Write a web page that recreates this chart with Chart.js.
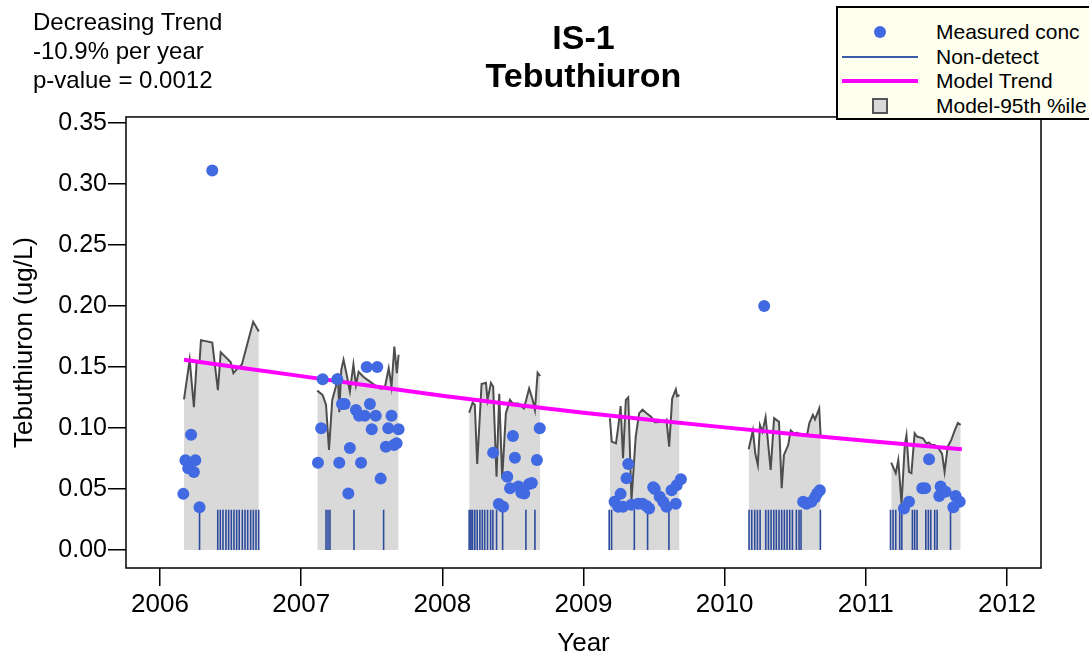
<!DOCTYPE html>
<html><head><meta charset="utf-8">
<script src="https://cdn.jsdelivr.net/npm/chart.js@4.4.1/dist/chart.umd.min.js"></script>
<style>
html,body{margin:0;padding:0;background:#fff;overflow:hidden;}
#wrap{position:relative;width:1089px;height:656px;font-family:"Liberation Sans",Arial,sans-serif;color:#000;overflow:hidden;}
canvas{position:absolute;left:0;top:0;}
#note{position:absolute;left:33px;top:7px;font-size:24px;line-height:29px;white-space:nowrap;}
#legend{position:absolute;left:836px;top:6px;width:270px;height:110px;background:#FFFFF0;border:2px solid #000;}
.lrow{position:absolute;left:936px;font-size:21px;line-height:24px;height:24px;white-space:nowrap;}
.sym{position:absolute;}
</style>
</head><body>
<div id="wrap">
<canvas id="c" width="1089" height="656"></canvas>
<div id="note">Decreasing Trend<br>-10.9% per year<br>p-value = 0.0012</div>
<div id="legend"></div>
<div class="sym" style="left:874px;top:26px;width:12px;height:12px;border-radius:50%;background:#4169E1;"></div>
<div class="sym" style="left:842px;top:56px;width:76px;height:2px;background:#3B5BAA;"></div>
<div class="sym" style="left:842px;top:79px;width:76px;height:4px;background:#FF00FF;"></div>
<div class="sym" style="left:872px;top:98px;width:12px;height:12px;background:#D9D9D9;border:2px solid #555;"></div>
<div class="lrow" style="top:20px;">Measured conc</div>
<div class="lrow" style="top:45px;">Non-detect</div>
<div class="lrow" style="top:69px;">Model Trend</div>
<div class="lrow" style="top:94px;">Model-95th %ile</div>
</div>
<script>
// ---- data (decimal years, ug/L) ----
const titleLines = ['IS-1', 'Tebuthiuron'];
const xTicks = [2006, 2007, 2008, 2009, 2010, 2011, 2012];
const yTicks = [0.00, 0.05, 0.10, 0.15, 0.20, 0.25, 0.30, 0.35];

const measuredT = [
  2006.165, 2006.18, 2006.20, 2006.22, 2006.24, 2006.25, 2006.28, 2006.37,
  2007.119, 2007.142, 2007.152, 2007.256, 2007.27, 2007.289, 2007.308, 2007.334, 2007.345, 2007.388,
  2007.41, 2007.424, 2007.45, 2007.464, 2007.487, 2007.50, 2007.528, 2007.539, 2007.563, 2007.60,
  2007.617, 2007.64, 2007.657, 2007.676, 2007.69,
  2008.36, 2008.40, 2008.43, 2008.46, 2008.48, 2008.50, 2008.514, 2008.54, 2008.56, 2008.58,
  2008.615, 2008.634, 2008.67, 2008.69,
  2009.22, 2009.246, 2009.263, 2009.28, 2009.305, 2009.317, 2009.34, 2009.387, 2009.418, 2009.447,
  2009.465, 2009.494, 2009.505, 2009.54, 2009.565, 2009.588, 2009.624, 2009.654, 2009.66, 2009.69,
  2010.28, 2010.556, 2010.58, 2010.615, 2010.64, 2010.655, 2010.674,
  2011.27, 2011.306, 2011.40, 2011.42, 2011.448, 2011.52, 2011.53, 2011.547, 2011.565, 2011.62,
  2011.636, 2011.665
];
const measuredV = [
  0.046, 0.0735, 0.067, 0.0945, 0.064, 0.0735, 0.035, 0.311,
  0.0716, 0.0997, 0.140, 0.140, 0.0716, 0.1197, 0.1197, 0.0464, 0.0836, 0.1148,
  0.110, 0.0716, 0.110, 0.150, 0.1197, 0.099, 0.110, 0.150, 0.0585, 0.0847,
  0.0997, 0.110, 0.086, 0.0874, 0.099,
  0.0798, 0.0377, 0.0355, 0.060, 0.0506, 0.0934, 0.0757, 0.052, 0.047, 0.0464,
  0.054, 0.055, 0.0738, 0.0997,
  0.0396, 0.0355, 0.046, 0.0355, 0.0588, 0.0705, 0.037, 0.038, 0.038, 0.036,
  0.034, 0.0514, 0.050, 0.0437, 0.0396, 0.0355, 0.049, 0.038, 0.053, 0.058,
  0.200, 0.0396, 0.038, 0.0396, 0.043, 0.0464, 0.049,
  0.034, 0.0396, 0.0506, 0.0506, 0.0743, 0.0443, 0.052, 0.0486, 0.0478, 0.035,
  0.0443, 0.0396
];

const nonDetectRL = 0.033;
const nonDetectT = [
  2006.28, 2006.409, 2006.427, 2006.446, 2006.467, 2006.486, 2006.505, 2006.524, 2006.543, 2006.561,
  2006.583, 2006.602, 2006.621, 2006.642, 2006.661, 2006.680, 2006.699,
  2007.176, 2007.19, 2007.204, 2007.374, 2007.584,
  2008.19, 2008.202, 2008.214, 2008.23, 2008.247, 2008.266, 2008.283, 2008.30, 2008.32, 2008.342,
  2008.358, 2008.384, 2008.427, 2008.592, 2008.656,
  2009.182, 2009.199, 2009.36, 2009.454, 2009.605,
  2010.173, 2010.192, 2010.213, 2010.232, 2010.251, 2010.291, 2010.31, 2010.329, 2010.348, 2010.366,
  2010.385, 2010.404, 2010.423, 2010.442, 2010.461, 2010.48, 2010.508, 2010.527, 2010.541, 2010.678,
  2011.175, 2011.193, 2011.212, 2011.24, 2011.255, 2011.33, 2011.346, 2011.363, 2011.425, 2011.443,
  2011.46, 2011.488, 2011.505, 2011.6
];

const trendT = [2006.17, 2007, 2008, 2009, 2010, 2011, 2011.68];
const trendV = [0.156, 0.1425, 0.1265, 0.1125, 0.1005, 0.0895, 0.0825];

const p95_2006 = [[2006.17,0.1235],[2006.21,0.156],[2006.24,0.117],[2006.26,0.155],[2006.28,0.154],[2006.29,0.172],
  [2006.37,0.170],[2006.41,0.131],[2006.43,0.162],[2006.50,0.154],[2006.52,0.145],[2006.55,0.149],[2006.58,0.152],
  [2006.66,0.187],[2006.70,0.179]];
const p95_2007 = [[2007.114,0.1306],[2007.152,0.127],[2007.176,0.119],[2007.197,0.082],[2007.22,0.123],[2007.246,0.134],
  [2007.26,0.145],[2007.27,0.113],[2007.284,0.1475],[2007.30,0.156],[2007.32,0.145],[2007.345,0.130],[2007.37,0.152],
  [2007.388,0.135],[2007.407,0.146],[2007.44,0.142],[2007.487,0.138],[2007.535,0.134],[2007.565,0.132],[2007.594,0.134],
  [2007.62,0.149],[2007.64,0.134],[2007.66,0.1667],[2007.678,0.145],[2007.69,0.160]];
const p95_2008 = [[2008.19,0.1125],[2008.215,0.121],[2008.23,0.119],[2008.247,0.0705],[2008.278,0.136],[2008.309,0.137],
  [2008.32,0.123],[2008.344,0.137],[2008.36,0.134],[2008.384,0.060],[2008.403,0.128],[2008.424,0.0587],[2008.45,0.112],
  [2008.479,0.123],[2008.50,0.120],[2008.538,0.120],[2008.578,0.116],[2008.615,0.1325],[2008.64,0.123],[2008.656,0.1148],
  [2008.675,0.1453],[2008.693,0.1426]];
const p95_2009 = [[2009.187,0.108],[2009.20,0.0888],[2009.23,0.0874],[2009.246,0.101],[2009.263,0.118],[2009.28,0.0752],
  [2009.30,0.123],[2009.317,0.125],[2009.34,0.041],[2009.37,0.093],[2009.394,0.112],[2009.418,0.115],[2009.447,0.112],
  [2009.48,0.109],[2009.505,0.1047],[2009.54,0.105],[2009.576,0.105],[2009.588,0.1066],[2009.607,0.0847],[2009.628,0.124],
  [2009.654,0.1317],[2009.663,0.126],[2009.68,0.127]];
const p95_2010 = [[2010.17,0.0825],[2010.20,0.098],[2010.217,0.079],[2010.235,0.0697],[2010.25,0.1025],[2010.268,0.097],
  [2010.29,0.1088],[2010.326,0.0656],[2010.35,0.108],[2010.385,0.105],[2010.404,0.0506],[2010.42,0.0779],[2010.45,0.086],
  [2010.468,0.098],[2010.49,0.0957],[2010.515,0.096],[2010.55,0.094],[2010.585,0.095],[2010.60,0.104],[2010.625,0.1107],
  [2010.64,0.107],[2010.67,0.116],[2010.68,0.093]];
const p95_2011 = [[2011.18,0.0716],[2011.212,0.063],[2011.23,0.0738],[2011.253,0.038],[2011.276,0.086],[2011.288,0.094],
  [2011.306,0.064],[2011.323,0.063],[2011.346,0.0957],[2011.363,0.093],[2011.405,0.0915],[2011.429,0.0875],[2011.448,0.088],
  [2011.465,0.086],[2011.488,0.086],[2011.52,0.0825],[2011.54,0.079],[2011.558,0.064],[2011.58,0.0847],[2011.605,0.090],
  [2011.63,0.098],[2011.652,0.104],[2011.672,0.1025]];
const p95Years = [p95_2006, p95_2007, p95_2008, p95_2009, p95_2010, p95_2011];

// ---- build datasets ----
const FONT = '"Liberation Sans", Arial, sans-serif';
const measuredData = measuredT.map((t, i) => ({x: t, y: measuredV[i]}));
const trendData = trendT.map((t, i) => ({x: t, y: trendV[i]}));
const ndData = [];
nonDetectT.forEach(t => { ndData.push({x: t, y: 0}, {x: t, y: nonDetectRL}, {x: t, y: null}); });
const p95Data = [];
p95Years.forEach(arr => { arr.forEach(p => p95Data.push({x: p[0], y: p[1]})); p95Data.push({x: arr[arr.length-1][0] + 0.001, y: null}); });

const framePlugin = {
  id: 'frame',
  afterDraw(chart) {
    const a = chart.chartArea, c = chart.ctx;
    c.save(); c.strokeStyle = '#000'; c.lineWidth = 1.5;
    c.strokeRect(a.left, a.top, a.right - a.left, a.bottom - a.top);
    c.restore();
  }
};

new Chart(document.getElementById('c'), {
  type: 'line',
  data: {
    datasets: [
      {label: 'Measured conc', data: measuredData, showLine: false, pointRadius: 6, pointHoverRadius: 6,
       pointBackgroundColor: '#4169E1', pointBorderWidth: 0, borderColor: '#4169E1', order: 0},
      {label: 'Model Trend', data: trendData, borderColor: '#FF00FF', borderWidth: 4, pointRadius: 0, tension: 0.3,
       fill: false, order: 1},
      {label: 'Non-detect', data: ndData, borderColor: '#2C4A9E', borderWidth: 1.6, pointRadius: 0, spanGaps: false,
       fill: false, order: 2},
      {label: 'Model-95th %ile', data: p95Data, borderColor: '#4D4D4D', borderWidth: 2, pointRadius: 0, spanGaps: false,
       fill: 'origin', backgroundColor: '#D9D9D9', order: 3}
    ]
  },
  options: {
    responsive: false, animation: false, devicePixelRatio: 1,
    layout: {padding: {left: 0, right: 48, top: 0, bottom: 0}},
    plugins: {
      legend: {display: false}, tooltip: {enabled: false},
      title: {display: true, text: titleLines, fullSize: false, color: '#000',
        font: {family: FONT, size: 34, weight: 'bold', lineHeight: 1.12}, padding: {top: 21, bottom: 19.8}}
    },
    scales: {
      x: {
        type: 'linear', min: 2005.759, max: 2012.241,
        afterBuildTicks: s => { s.ticks = xTicks.map(v => ({value: v})); },
        afterFit: s => { s.height = 88; },
        ticks: {color: '#000', font: {family: FONT, size: 26}, padding: 3, maxRotation: 0, autoSkip: false,
          callback: v => String(v)},
        grid: {drawOnChartArea: false, drawTicks: true, tickLength: 18, color: '#000', lineWidth: 1.5},
        border: {display: false},
        title: {display: true, text: 'Year', color: '#000', font: {family: FONT, size: 26}, padding: {top: 0, bottom: -3}}
      },
      y: {
        type: 'linear', min: -0.01475, max: 0.3549,
        afterBuildTicks: s => { s.ticks = yTicks.map(v => ({value: v})); },
        afterFit: s => { s.width = 126; },
        ticks: {color: '#000', font: {family: FONT, size: 25}, padding: 1, autoSkip: false,
          callback: v => Number(v).toFixed(2)},
        grid: {drawOnChartArea: false, drawTicks: true, tickLength: 18, color: '#000', lineWidth: 1.5},
        border: {display: false},
        title: {display: true, text: 'Tebuthiuron (ug/L)', color: '#000', font: {family: FONT, size: 26},
          padding: {top: 9, bottom: 0}}
      }
    }
  },
  plugins: [framePlugin]
});
</script>
</body></html>
